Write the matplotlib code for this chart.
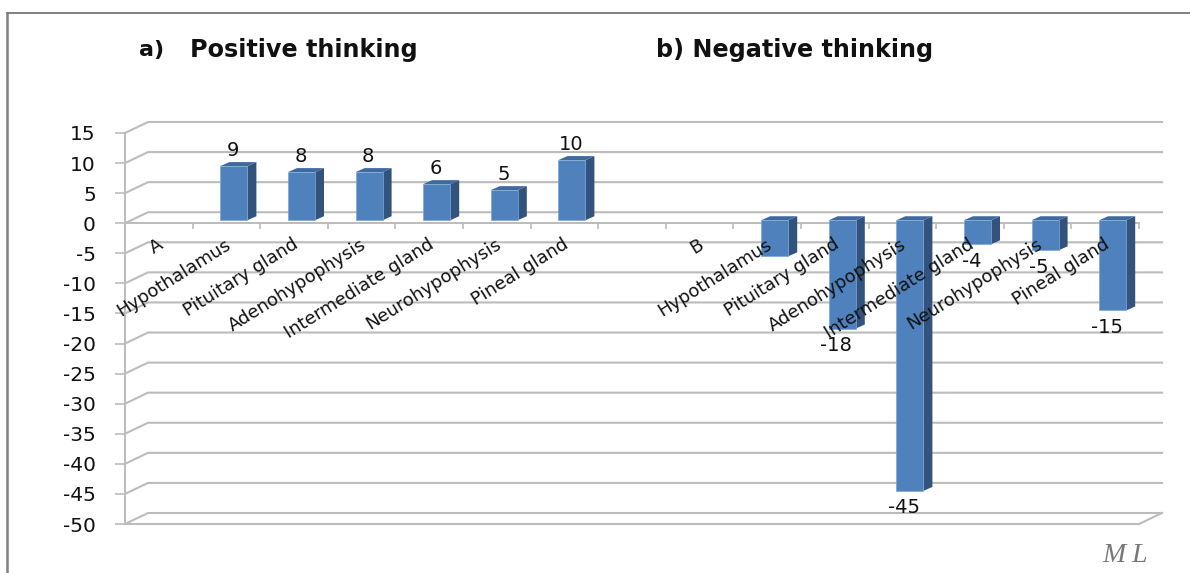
import matplotlib
matplotlib.use("Agg")
import matplotlib.pyplot as plt
from matplotlib.patches import Polygon
from matplotlib.lines import Line2D

categories = ["A", "Hypothalamus", "Pituitary gland", "Adenohypophysis", "Intermediate gland",
              "Neurohypophysis", "Pineal gland", "", "B", "Hypothalamus", "Pituitary gland",
              "Adenohypophysis", "Intermediate gland", "Neurohypophysis", "Pineal gland"]
values = [None, 9, 8, 8, 6, 5, 10, None, None, -6, -18, -45, -4, -5, -15]
shown_labels = [None, "9", "8", "8", "6", "5", "10", None, None, None, "-18", "-45", "-4", "-5", "-15"]
y_ticks = list(range(15, -55, -5))

W, H = 1190, 573
X0, X1, Y_TOP, Y_BOT = 125, 1139, 133, 524
YMAX, YMIN = 15, -50
GRID = "#bcbcbc"
FRONT, SIDE, TOP = "#4f81bd", "#32537c", "#3f6a9f"
TEXT = "#111111"

plt.rcParams["font.family"] = "DejaVu Sans"
plt.rcParams["axes.unicode_minus"] = False
fig = plt.figure(figsize=(W / 100, H / 100), dpi=100, facecolor="white")
ax = fig.add_axes([X0 / W, 1 - Y_BOT / H, (X1 - X0) / W, (Y_BOT - Y_TOP) / H])
ax.set_xlim(0, len(categories))
ax.set_ylim(YMIN, YMAX)
ax.patch.set_visible(False)

px = (X1 - X0) / len(categories)      # pixels per category slot
py = (Y_BOT - Y_TOP) / (YMAX - YMIN)  # pixels per value unit
DX, DY = 23 / px, 11 / py             # wall depth
BW, SX, SY = 27 / px, 9 / px, 4 / py  # bar width, bar depth
SHIFT_X, SHIFT_Y = 7.5 / px, 3 / py   # bars sit part-way into the depth

for s in ("top", "right"):
    ax.spines[s].set_visible(False)
ax.spines["left"].set_color(GRID)
ax.spines["left"].set_linewidth(1.4)
ax.spines["bottom"].set_position(("data", 0))
ax.spines["bottom"].set_color(GRID)
ax.spines["bottom"].set_linewidth(1.4)
ax.set_yticks(y_ticks)
ax.set_xticks(range(len(categories) + 1))
ax.set_xticklabels([])
ax.tick_params(axis="y", length=7, width=1.2, color=GRID, labelsize=14.5,
               labelcolor=TEXT, pad=14)
ax.tick_params(axis="x", length=4, width=1.2, color=GRID)

# walls and gridlines
n = len(categories)
for v in y_ticks:
    ax.plot([0, DX, n + DX], [v, v + DY, v + DY], color=GRID, lw=1.5, zorder=1, clip_on=False)
ax.plot([n, n + DX], [YMIN, YMIN + DY], color=GRID, lw=1.5, zorder=1, clip_on=False)
ax.plot([0, n], [YMIN, YMIN], color=GRID, lw=1.5, zorder=1, clip_on=False)

# bars
for i, v in enumerate(values):
    if v is None:
        continue
    xl = i + 0.5 + SHIFT_X - BW / 2
    xr = xl + BW
    y0 = SHIFT_Y
    y1 = v + SHIFT_Y
    hi = max(y0, y1)
    ax.add_patch(Polygon([(xr, y0), (xr + SX, y0 + SY), (xr + SX, y1 + SY), (xr, y1)],
                         fc=SIDE, ec="none", zorder=3, clip_on=False))
    ax.add_patch(Polygon([(xl, hi), (xl + SX, hi + SY), (xr + SX, hi + SY), (xr, hi)],
                         fc=TOP, ec="none", zorder=3, clip_on=False))
    ax.add_patch(Polygon([(xl, y0), (xr, y0), (xr, y1), (xl, y1)],
                         fc=FRONT, ec="#7fa6d6", lw=0.5, zorder=4, clip_on=False))

# value labels
for i, (v, lab) in enumerate(zip(values, shown_labels)):
    if lab is None:
        continue
    xc = i + 0.5 + SHIFT_X
    off = (-1, 16) if v > 0 else (-6, -17)
    ax.annotate(lab, (xc, v + SHIFT_Y), xytext=off, textcoords="offset pixels",
                ha="center", va="center", fontsize=14, color=TEXT, zorder=6)

# rotated category labels
for i, lab in enumerate(categories):
    if not lab:
        continue
    ax.annotate(lab, (i + 0.5, 0), xytext=(-2, -12), textcoords="offset pixels",
                ha="right", va="top", rotation=32, rotation_mode="anchor",
                fontsize=13, color=TEXT, zorder=5, annotation_clip=False)

# titles
fig.text(139 / W, 1 - 50 / H, "a)", fontsize=16, fontweight="bold", va="center", color=TEXT)
fig.text(190 / W, 1 - 50 / H, "Positive thinking", fontsize=17.2, fontweight="bold", va="center", color=TEXT)
fig.text(656 / W, 1 - 50 / H, "b) Negative thinking", fontsize=17.2, fontweight="bold", va="center", color=TEXT)

# signature
fig.text(1125 / W, 1 - 555 / H, "M L", fontsize=20, family="Liberation Serif", style="italic",
         ha="center", va="center", color="#777777")

# outer frame
frame = "#808080"
fig.add_artist(Line2D([6.5 / W, 6.5 / W], [0, 1 - 13 / H], color=frame, lw=1.8))
fig.add_artist(Line2D([6.5 / W, 1], [1 - 13 / H, 1 - 13 / H], color=frame, lw=1.4))

fig.savefig("out.png", dpi=100)
